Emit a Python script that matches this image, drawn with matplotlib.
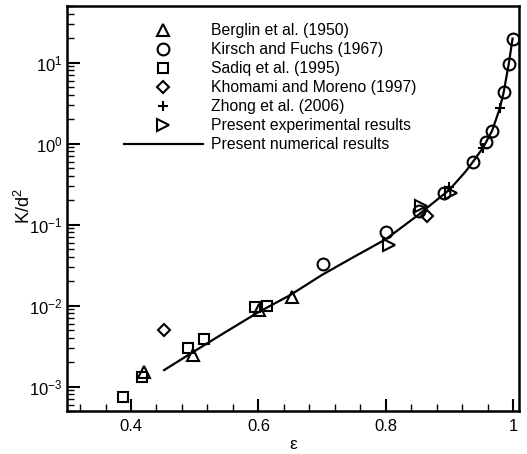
import matplotlib
matplotlib.use('Agg')
import matplotlib.pyplot as plt
from matplotlib.ticker import MultipleLocator, LogLocator, NullFormatter

plt.rcParams['font.family'] = ['Liberation Sans', 'DejaVu Sans']
plt.rcParams['mathtext.fontset'] = 'custom'
plt.rcParams['mathtext.rm'] = 'Liberation Sans'
plt.rcParams['mathtext.it'] = 'Liberation Sans:italic'

# Berglin et al. (1950)
berglin_x = [0.420, 0.498, 0.601, 0.652]
berglin_y = [1.53e-3, 2.46e-3, 8.85e-3, 0.0127]

# Kirsch and Fuchs (1967)
kirsch_x = [0.702, 0.801, 0.852, 0.891, 0.937, 0.958, 0.967, 0.985, 0.993, 0.999]
kirsch_y = [0.033, 0.0805, 0.149, 0.244, 0.60, 1.06, 1.45, 4.39, 9.6, 19.8]

# Sadiq et al. (1995)
sadiq_x = [0.388, 0.417, 0.490, 0.515, 0.594, 0.614]
sadiq_y = [7.4e-4, 1.3e-3, 2.98e-3, 3.88e-3, 9.7e-3, 1.0e-2]

# Khomami and Moreno (1997)
khomami_x = [0.452, 0.864]
khomami_y = [5.0e-3, 0.128]

# Zhong et al. (2006)
zhong_x = [0.899, 0.953, 0.979]
zhong_y = [0.29, 0.88, 2.74]

# Present experimental results
exp_x = [0.805, 0.856, 0.903]
exp_y = [0.0557, 0.170, 0.244]

# Present numerical results
num_x = [0.452, 0.50, 0.55, 0.60, 0.65, 0.70, 0.75, 0.80, 0.85, 0.90,
         0.925, 0.937, 0.953, 0.967, 0.979, 0.985, 0.993, 0.999]
num_y = [1.6e-3, 2.75e-3, 4.8e-3, 8.3e-3, 0.0135, 0.024, 0.040, 0.066, 0.13, 0.27,
         0.45, 0.60, 0.90, 1.45, 2.74, 4.3, 9.6, 19.8]

fig = plt.figure(figsize=(5.27, 4.54), dpi=100)
ax = fig.add_axes([0.1277, 0.0947, 0.857, 0.892])

mk = dict(linestyle='none', markerfacecolor='none', markeredgecolor='black',
          markeredgewidth=1.5)
ax.plot(berglin_x, berglin_y, marker='^', markersize=8, label='Berglin et al. (1950)', **mk)
ax.plot(kirsch_x, kirsch_y, marker='o', markersize=8.5, label='Kirsch and Fuchs (1967)', **mk)
ax.plot(sadiq_x, sadiq_y, marker='s', markersize=7, label='Sadiq et al. (1995)', **mk)
ax.plot(khomami_x, khomami_y, marker='D', markersize=6.5, label='Khomami and Moreno (1997)', **mk)
ax.plot(zhong_x, zhong_y, marker='+', markersize=7, label='Zhong et al. (2006)', **mk)
ax.plot(exp_x, exp_y, marker='>', markersize=8, label='Present experimental results', **mk)
ax.plot(num_x, num_y, color='black', linewidth=1.6, label='Present numerical results')

ax.set_yscale('log')
ax.set_xlim(0.3, 1.009)
ax.set_ylim(5e-4, 50)

ax.xaxis.set_minor_locator(MultipleLocator(0.04))
ax.set_xticks([0.4, 0.6, 0.8, 1.0])
ax.set_xticklabels(['0.4', '0.6', '0.8', '1'])
ax.yaxis.set_major_locator(LogLocator(base=10, numticks=10))
ax.yaxis.set_minor_locator(LogLocator(base=10, subs=range(2, 10), numticks=20))
ax.yaxis.set_minor_formatter(NullFormatter())

ax.tick_params(which='both', direction='in', top=False, right=False, labelsize=12)
ax.tick_params(axis='x', which='major', pad=6)
ax.tick_params(which='major', length=9, width=1.5)
ax.tick_params(which='minor', length=5, width=1)
for s in ax.spines.values():
    s.set_linewidth(1.8)

ax.set_xlabel('ε', fontsize=12.5, labelpad=2)
ax.set_ylabel('K/d$^2$', fontsize=13)
ax.yaxis.set_label_coords(-0.074, 0.505)

ax.legend(loc='upper left', bbox_to_anchor=(0.126, 0.957), frameon=False,
          fontsize=11.3, handlelength=5.0, handletextpad=0.5, labelspacing=0.25,
          borderpad=0, borderaxespad=0)

fig.savefig('out.png', dpi=100)
